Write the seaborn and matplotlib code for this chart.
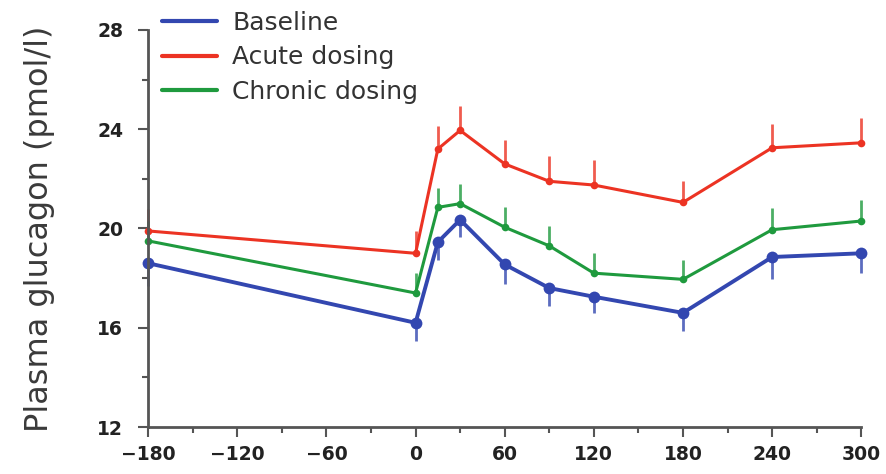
import matplotlib
matplotlib.use("Agg")
import matplotlib.pyplot as plt
import seaborn as sns
import pandas as pd
import numpy as np
from matplotlib.ticker import MultipleLocator

# time points (min)
time = [-180, 0, 15, 30, 60, 90, 120, 180, 240, 300]

baseline = [18.6, 16.2, 19.45, 20.35, 18.55, 17.6, 17.25, 16.6, 18.85, 19.0]
acute = [19.9, 19.0, 23.2, 23.95, 22.6, 21.9, 21.75, 21.05, 23.25, 23.45]
chronic = [19.5, 17.4, 20.85, 21.0, 20.05, 19.3, 18.2, 17.95, 19.95, 20.3]

# one-sided error (baseline down, others up)
baseline_err = [0.93, 0.75, 0.74, 0.7, 0.78, 0.71, 0.67, 0.74, 0.87, 0.8]
acute_err = [0.9, 0.9, 0.93, 1.0, 0.97, 1.0, 1.0, 0.87, 0.95, 1.0]
chronic_err = [0.8, 0.8, 0.8, 0.8, 0.83, 0.8, 0.83, 0.8, 0.87, 0.83]

names = ["Baseline", "Acute dosing", "Chronic dosing"]
colors = {"Baseline": "#3347b0", "Acute dosing": "#ec3323", "Chronic dosing": "#1f9a3e"}

df = pd.DataFrame({
    "time": time * 3,
    "glucagon": baseline + acute + chronic,
    "group": [n for n in names for _ in time],
})

sns.set_style("ticks")
fig, ax = plt.subplots(figsize=(8.87, 4.74), dpi=100)
fig.subplots_adjust(left=0.167, right=0.971, bottom=0.099, top=0.937)

# error bars first so lines sit on top
zeros = np.zeros(len(time))
for vals, err, name in [(baseline, [baseline_err, zeros], "Baseline"),
                        (acute, [zeros, acute_err], "Acute dosing"),
                        (chronic, [zeros, chronic_err], "Chronic dosing")]:
    eb = ax.errorbar(time, vals, yerr=err, fmt="none", ecolor=colors[name],
                     elinewidth=2, capsize=0, alpha=0.8)
    for c in eb.lines[2]:
        c.set_clip_on(False)

sns.lineplot(data=df, x="time", y="glucagon", hue="group", palette=colors,
             hue_order=names, ax=ax, legend=False, linewidth=2.5,
             marker="o", markeredgewidth=0)
for line, ms, lw in zip(ax.lines, [8.5, 5.5, 5.5], [2.8, 2.2, 2.2]):
    line.set_markersize(ms)
    line.set_linewidth(lw)
    line.set_clip_on(False)

handles = [plt.Line2D([], [], color=colors[n], lw=3) for n in names]
ax.legend(handles, names, loc="upper left", bbox_to_anchor=(0.02, 1.048),
          borderaxespad=0, borderpad=0, frameon=False, fontsize=18,
          handlelength=2.2, handletextpad=0.6, labelspacing=0.42,
          labelcolor="#333333")

ax.set_xlim(-180, 300)
ax.set_ylim(12, 28)
ax.set_xticks(range(-180, 301, 60))
ax.xaxis.set_minor_locator(MultipleLocator(30))
ax.set_yticks([12, 16, 20, 24, 28])
ax.yaxis.set_minor_locator(MultipleLocator(2))
ax.tick_params(axis="both", which="major", length=7, width=1.5, color="#555555",
               labelsize=13.5, pad=6)
ax.tick_params(axis="y", which="major", pad=11)
ax.tick_params(axis="both", which="minor", length=4, width=1.5, color="#555555")
for lbl in ax.get_xticklabels() + ax.get_yticklabels():
    lbl.set_fontweight("bold")
    lbl.set_color("#222222")
sns.despine(ax=ax)
for s in ["left", "bottom"]:
    ax.spines[s].set_linewidth(2)
    ax.spines[s].set_color("#555555")
ax.set_xlabel("")
ax.set_ylabel("Plasma glucagon (pmol/l)", fontsize=23, color="#3a3a3a", labelpad=30)

fig.savefig("out.png", dpi=100)
